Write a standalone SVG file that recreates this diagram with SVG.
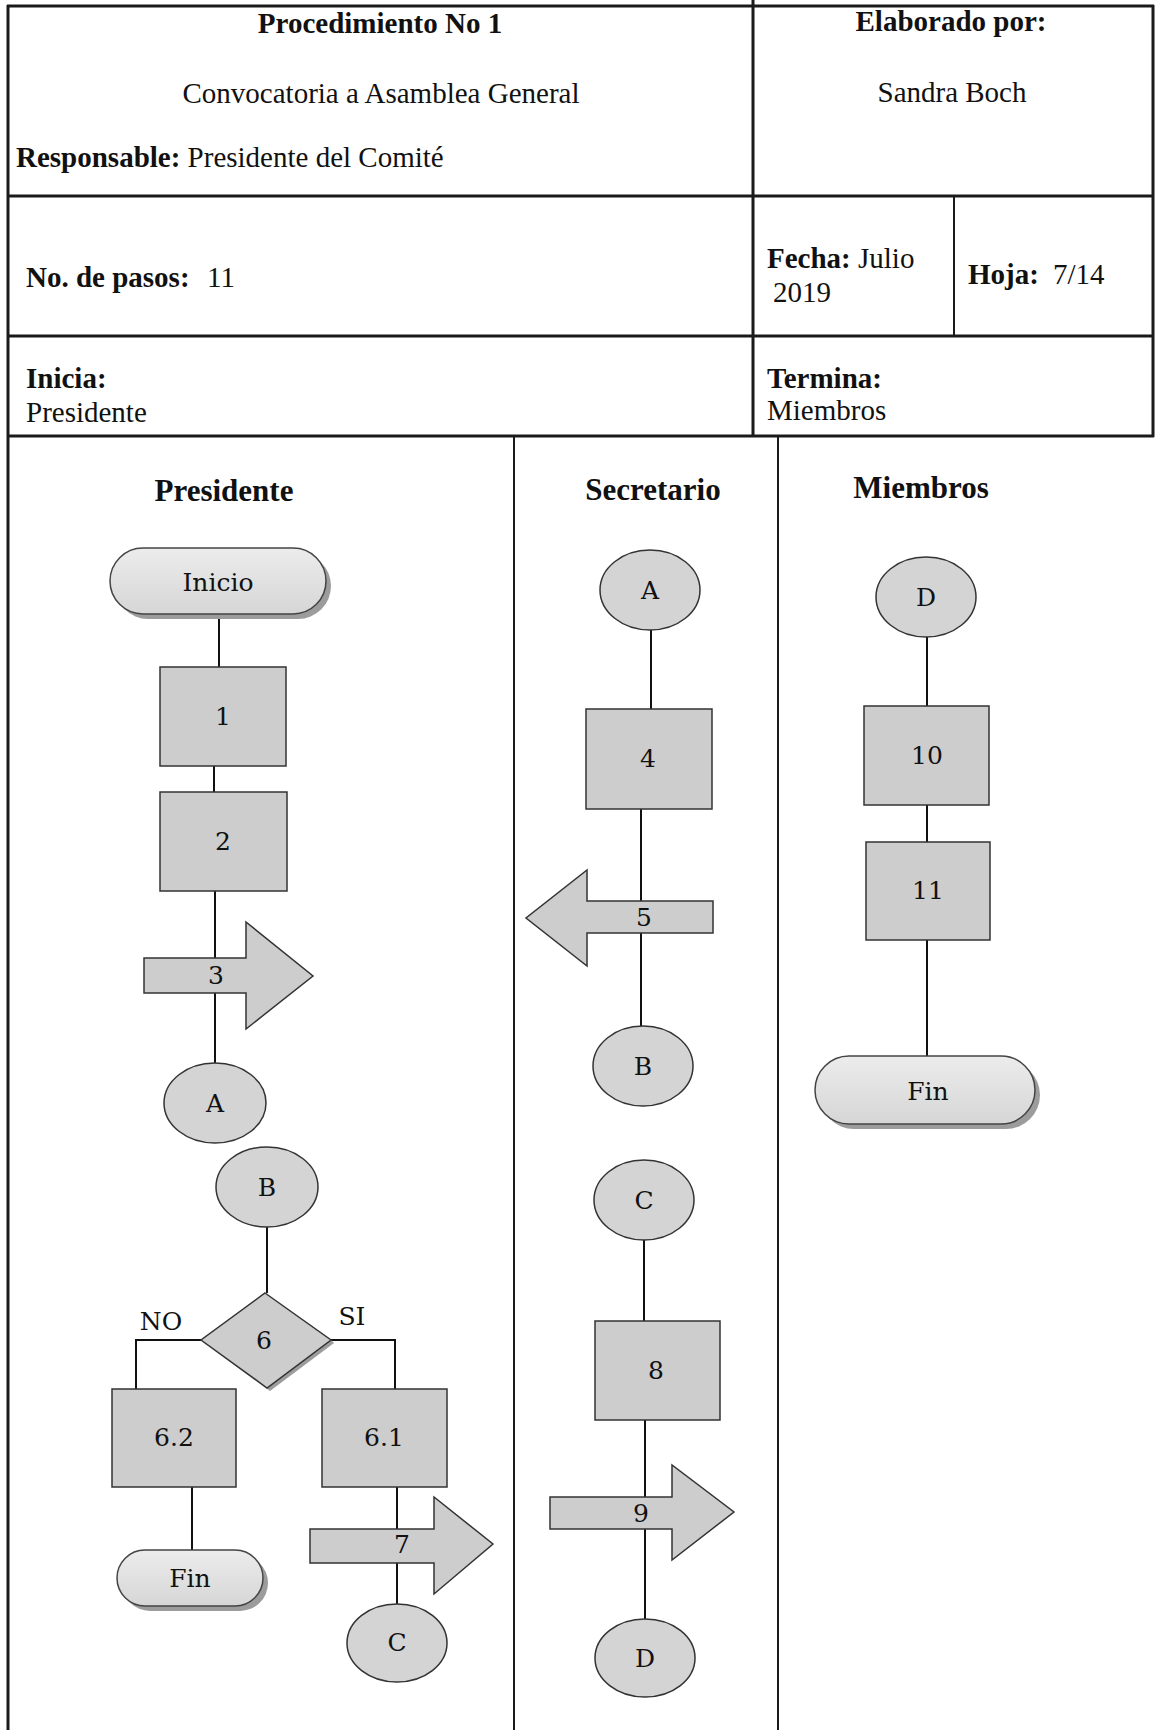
<svg xmlns="http://www.w3.org/2000/svg" width="1158" height="1730" viewBox="0 0 1158 1730">
<style>
.frame{stroke:#1a1a1a;stroke-width:3;fill:none}
.lane{stroke:#1a1a1a;stroke-width:2;fill:none}
.conn{stroke:#111;stroke-width:2;fill:none}
.box{fill:#cdcdcd;stroke:#333;stroke-width:1.5}
.circ{fill:#d4d4d4;stroke:#333;stroke-width:1.5}
.term{fill:url(#tg);stroke:#444;stroke-width:1.5}
.shadow{fill:#9c9c9c}
.hd{font-family:"Liberation Serif",serif;font-size:29px;fill:#111}
.b{font-weight:bold}
.lh{font-family:"Liberation Serif",serif;font-size:31px;font-weight:bold;fill:#111;text-anchor:middle}
.lbl{font-family:"DejaVu Serif","Liberation Serif",serif;font-size:25px;fill:#111;text-anchor:middle}
</style>
<defs>
<linearGradient id="tg" x1="0" y1="0" x2="0" y2="1">
<stop offset="0" stop-color="#ececec"/>
<stop offset="1" stop-color="#d6d6d6"/>
</linearGradient>
</defs>
<rect width="1158" height="1730" fill="#ffffff"/>
<g id="frame">
<line class="frame" x1="7" y1="6" x2="1154" y2="6"/>
<line class="frame" x1="8" y1="5" x2="8" y2="1730"/>
<line class="frame" x1="1153" y1="5" x2="1153" y2="437"/>
<line class="frame" x1="8" y1="196" x2="1154" y2="196"/>
<line class="frame" x1="8" y1="336" x2="1154" y2="336"/>
<line class="frame" x1="8" y1="436" x2="1154" y2="436"/>
<line class="frame" x1="753" y1="0" x2="753" y2="437"/>
<line class="lane" x1="954" y1="196" x2="954" y2="336"/>
<line class="lane" x1="514" y1="436" x2="514" y2="1730"/>
<line class="lane" x1="778" y1="436" x2="778" y2="1730"/>
</g>
<g id="header">
<text class="hd b" x="380" y="33" text-anchor="middle">Procedimiento No 1</text>
<text class="hd" x="381" y="103" text-anchor="middle">Convocatoria a Asamblea General</text>
<text class="hd" x="16" y="167"><tspan class="b">Responsable:</tspan> Presidente del Comité</text>
<text class="hd b" x="951" y="31" text-anchor="middle">Elaborado por:</text>
<text class="hd" x="952" y="102" text-anchor="middle">Sandra Boch</text>
<text class="hd" x="26" y="287"><tspan class="b">No. de pasos:</tspan><tspan x="207">11</tspan></text>
<text class="hd" x="767" y="268"><tspan class="b">Fecha:</tspan> Julio</text>
<text class="hd" x="773" y="302">2019</text>
<text class="hd" x="968" y="284"><tspan class="b">Hoja:</tspan><tspan x="1053">7/14</tspan></text>
<text class="hd b" x="26" y="388">Inicia:</text>
<text class="hd" x="26" y="422">Presidente</text>
<text class="hd b" x="767" y="388">Termina:</text>
<text class="hd" x="767" y="420">Miembros</text>
<text class="lh" x="224" y="501">Presidente</text>
<text class="lh" x="653" y="500">Secretario</text>
<text class="lh" x="921" y="498">Miembros</text>
</g>
<g id="connectors">
<line class="conn" x1="219" y1="614" x2="219" y2="667"/>
<line class="conn" x1="214" y1="766" x2="214" y2="792"/>
<line class="conn" x1="215" y1="891" x2="215" y2="1063"/>
<line class="conn" x1="267" y1="1227" x2="267" y2="1293"/>
<polyline class="conn" points="201,1340 136,1340 136,1389"/>
<polyline class="conn" points="331,1340 395,1340 395,1389"/>
<line class="conn" x1="192" y1="1487" x2="192" y2="1550"/>
<line class="conn" x1="397" y1="1487" x2="397" y2="1604"/>
<line class="conn" x1="651" y1="630" x2="651" y2="709"/>
<line class="conn" x1="641" y1="809" x2="641" y2="1026"/>
<line class="conn" x1="644" y1="1240" x2="644" y2="1321"/>
<line class="conn" x1="645" y1="1420" x2="645" y2="1619"/>
<line class="conn" x1="927" y1="637" x2="927" y2="706"/>
<line class="conn" x1="927" y1="805" x2="927" y2="842"/>
<line class="conn" x1="927" y1="940" x2="927" y2="1056"/>
</g>
<g id="n-inicio">
<rect class="shadow" x="115" y="553" width="216" height="66" rx="33"/>
<rect class="term" x="110" y="548" width="216" height="66" rx="33"/>
<text class="lbl" x="218" y="591">Inicio</text>
</g>
<g id="n-1"><rect class="box" x="160" y="667" width="126" height="99"/><text class="lbl" x="223" y="725">1</text></g>
<g id="n-2"><rect class="box" x="160" y="792" width="127" height="99"/><text class="lbl" x="223" y="850">2</text></g>
<g id="n-3"><polygon class="box" points="144,958 246,958 246,922 313,976 246,1029 246,993 144,993"/><text class="lbl" x="216" y="984">3</text></g>
<g id="n-a1"><ellipse class="circ" cx="215" cy="1103" rx="51" ry="40"/><text class="lbl" x="215" y="1112">A</text></g>
<g id="n-b1"><ellipse class="circ" cx="267" cy="1187" rx="51" ry="40"/><text class="lbl" x="267" y="1196">B</text></g>
<g id="n-6">
<polygon class="shadow" points="334,1343 270,1391 266,1388 331,1340"/>
<polygon class="box" points="265,1293 331,1340 267,1388 201,1340"/>
<text class="lbl" x="264" y="1349">6</text>
<text class="lbl" x="161" y="1330">NO</text>
<text class="lbl" x="352" y="1325">SI</text>
</g>
<g id="n-62"><rect class="box" x="112" y="1389" width="124" height="98"/><text class="lbl" x="174" y="1446">6.2</text></g>
<g id="n-61"><rect class="box" x="322" y="1389" width="125" height="98"/><text class="lbl" x="384" y="1446">6.1</text></g>
<g id="n-fin1">
<rect class="shadow" x="122" y="1555" width="146" height="56" rx="28"/>
<rect class="term" x="117" y="1550" width="146" height="56" rx="28"/>
<text class="lbl" x="190" y="1587">Fin</text>
</g>
<g id="n-7"><polygon class="box" points="310,1529 434,1529 434,1497 493,1544 434,1594 434,1563 310,1563"/><text class="lbl" x="402" y="1553">7</text></g>
<g id="n-c1"><ellipse class="circ" cx="397" cy="1643" rx="50" ry="39"/><text class="lbl" x="397" y="1651">C</text></g>
<g id="n-a2"><ellipse class="circ" cx="650" cy="590" rx="50" ry="40"/><text class="lbl" x="650" y="599">A</text></g>
<g id="n-4"><rect class="box" x="586" y="709" width="126" height="100"/><text class="lbl" x="648" y="767">4</text></g>
<g id="n-5"><polygon class="box" points="713,901 587,901 587,870 526,918 587,966 587,933 713,933"/><text class="lbl" x="644" y="926">5</text></g>
<g id="n-b2"><ellipse class="circ" cx="643" cy="1066" rx="50" ry="40"/><text class="lbl" x="643" y="1075">B</text></g>
<g id="n-c2"><ellipse class="circ" cx="644" cy="1200" rx="50" ry="40"/><text class="lbl" x="644" y="1209">C</text></g>
<g id="n-8"><rect class="box" x="595" y="1321" width="125" height="99"/><text class="lbl" x="656" y="1379">8</text></g>
<g id="n-9"><polygon class="box" points="550,1497 672,1497 672,1465 734,1512 672,1560 672,1529 550,1529"/><text class="lbl" x="641" y="1522">9</text></g>
<g id="n-d2"><ellipse class="circ" cx="645" cy="1658" rx="50" ry="39"/><text class="lbl" x="645" y="1667">D</text></g>
<g id="n-d3"><ellipse class="circ" cx="926" cy="597" rx="50" ry="40"/><text class="lbl" x="926" y="606">D</text></g>
<g id="n-10"><rect class="box" x="864" y="706" width="125" height="99"/><text class="lbl" x="927" y="764">10</text></g>
<g id="n-11"><rect class="box" x="866" y="842" width="124" height="98"/><text class="lbl" x="928" y="899">11</text></g>
<g id="n-fin2">
<rect class="shadow" x="820" y="1061" width="220" height="68" rx="34"/>
<rect class="term" x="815" y="1056" width="220" height="68" rx="34"/>
<text class="lbl" x="928" y="1100">Fin</text>
</g>
</svg>
